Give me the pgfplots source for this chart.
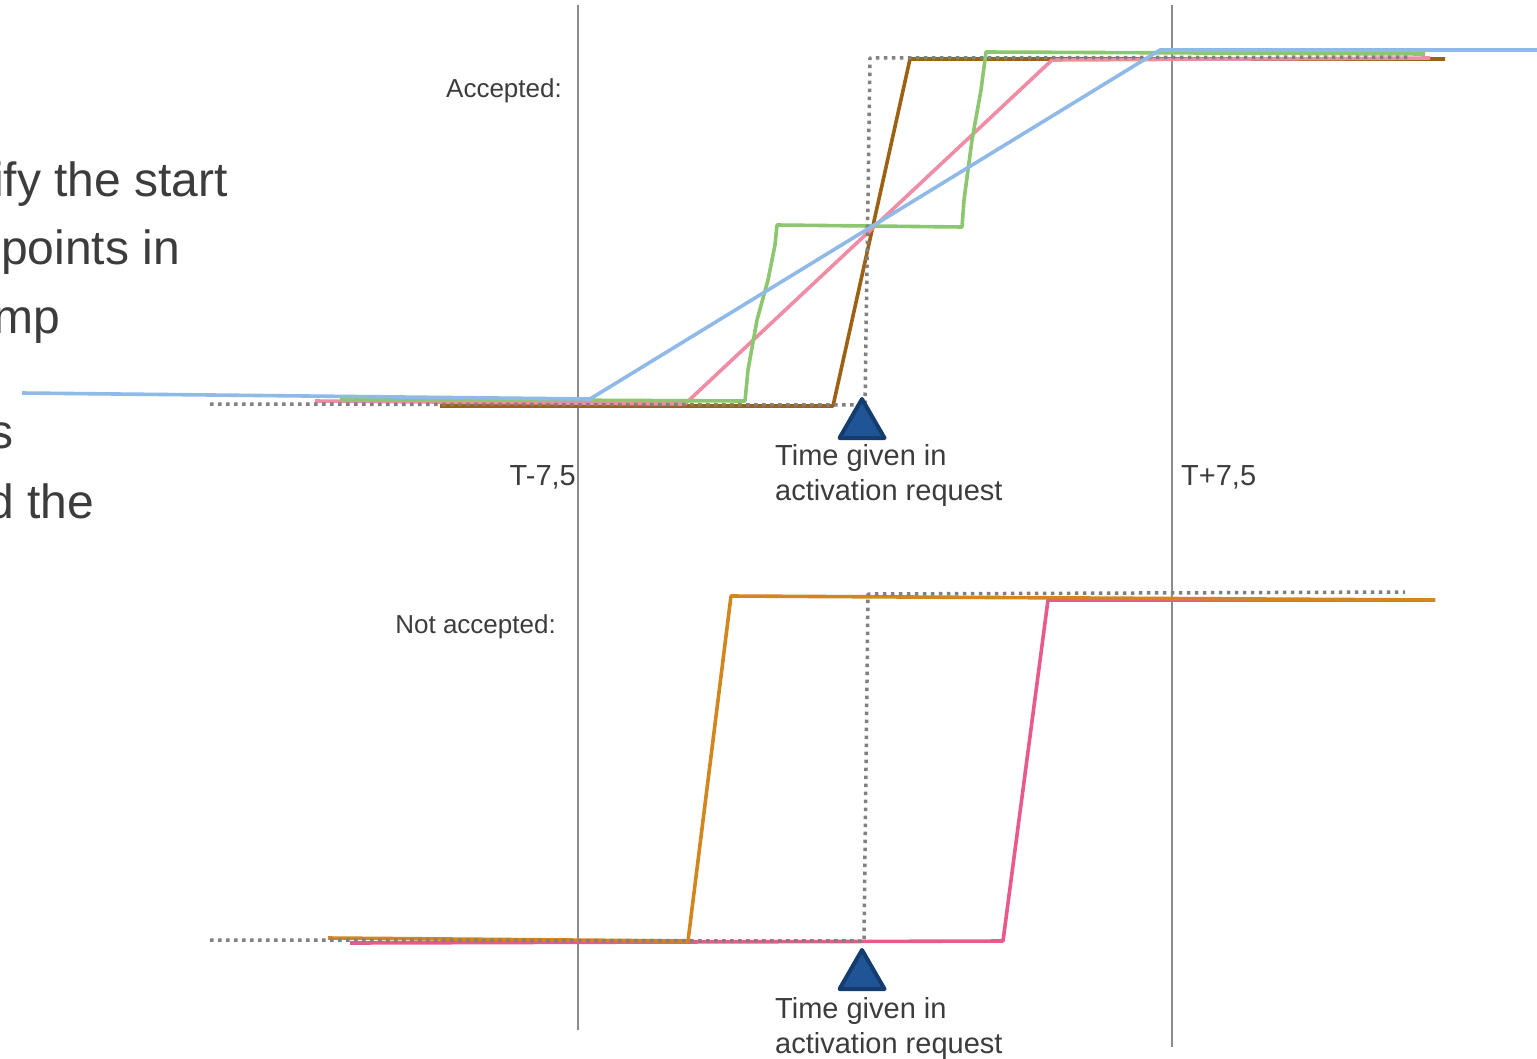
\documentclass[border=0pt]{standalone}
\usepackage{pgfplots}
\pgfplotsset{compat=1.18}
\usepackage{fontspec}
\setmainfont{Liberation Sans}

\definecolor{txt}{RGB}{60,60,60}
\definecolor{vline}{RGB}{140,140,140}
\definecolor{dots}{RGB}{128,128,128}
\definecolor{brownL}{RGB}{155,98,20}
\definecolor{pinkL}{RGB}{240,140,165}
\definecolor{greenL}{RGB}{140,198,110}
\definecolor{blueL}{RGB}{143,186,232}
\definecolor{orangeL}{RGB}{210,135,30}
\definecolor{magL}{RGB}{232,90,138}
\definecolor{triFill}{RGB}{31,85,150}
\definecolor{triEdge}{RGB}{20,60,110}

\begin{document}
\begin{tikzpicture}
\begin{axis}[
  scale only axis,
  width=1537pt, height=1058pt,
  xmin=0, xmax=1537, ymin=0, ymax=1058,
  y dir=reverse,
  axis lines=none,
  clip=false,
  every axis plot/.append style={line width=3.6pt, line join=round},
]
% vertical reference lines T-7,5 and T+7,5
\addplot[vline, line width=2pt] coordinates {(578,5) (578,1030)};
\addplot[vline, line width=2pt] coordinates {(1172,5) (1172,1047)};

% ---- accepted ----
\addplot[brownL] coordinates {(440,406) (833,406) (910,59) (1445,59)};
\addplot[pinkL] coordinates {(315,401) (685,404) (1052,60) (1430,58)};
\addplot[greenL] coordinates {(340,399) (745,401) (748,370) (757,320) (768,280) (775,245) (777,225)
  (962,227) (964,200) (972,140) (981,90) (986,52) (1425,54)};
\addplot[dots, line width=3.5pt, dash pattern=on 3.5pt off 4.5pt] coordinates {(210,404) (865,405) (870,58) (1408,57)};
\addplot[blueL] coordinates {(22,393) (590,399) (1160,50) (1537,50)};
\addplot[only marks, mark=triangle*, mark size=26pt,
  mark options={fill=triFill, draw=triEdge, line width=4pt, line join=round}] coordinates {(862,425)};

% ---- not accepted ----
\addplot[magL] coordinates {(350,943) (1003,941) (1048,600) (1435,600)};
\addplot[orangeL] coordinates {(328,938) (688,941) (731,596) (1435,600)};
\addplot[dots, line width=3.5pt, dash pattern=on 3.5pt off 4.5pt] coordinates {(210,940) (864,941) (868,594) (1405,592)};
\addplot[only marks, mark=triangle*, mark size=26pt,
  mark options={fill=triFill, draw=triEdge, line width=4pt, line join=round}] coordinates {(862,976)};

% labels
\begin{scope}[every node/.style={text=txt, inner sep=0pt}]
\node[anchor=base east, font=\fontsize{26}{31}\selectfont] at (axis cs:562,97) {Accepted:};
\node[anchor=base east, font=\fontsize{26}{31}\selectfont] at (axis cs:556,633) {Not accepted:};
\node[anchor=base east, font=\fontsize{29}{35}\selectfont] at (axis cs:576,485) {T-7,5};
\node[anchor=base west, font=\fontsize{29}{35}\selectfont] at (axis cs:1181,485) {T+7,5};
\node[anchor=base west, font=\fontsize{29}{35}\selectfont] at (axis cs:775,465) {Time given in};
\node[anchor=base west, font=\fontsize{29}{35}\selectfont] at (axis cs:775,500) {activation request};
\node[anchor=base west, font=\fontsize{29}{35}\selectfont] at (axis cs:775,1018) {Time given in};
\node[anchor=base west, font=\fontsize{29}{35}\selectfont] at (axis cs:775,1053) {activation request};
% slide text cut by the left edge
\node[anchor=base east, font=\fontsize{48}{58}\selectfont] at (axis cs:228,196) {ify the start};
\node[anchor=base east, font=\fontsize{48}{58}\selectfont] at (axis cs:180,264) {points in};
\node[anchor=base east, font=\fontsize{48}{58}\selectfont] at (axis cs:60,333) {mp};
\node[anchor=base east, font=\fontsize{48}{58}\selectfont] at (axis cs:14,448) {s};
\node[anchor=base east, font=\fontsize{48}{58}\selectfont] at (axis cs:94,518) {d the};
\end{scope}
\end{axis}
\pgfresetboundingbox
\useasboundingbox (0,0) rectangle (1537pt,1058pt);
\end{tikzpicture}
\end{document}
